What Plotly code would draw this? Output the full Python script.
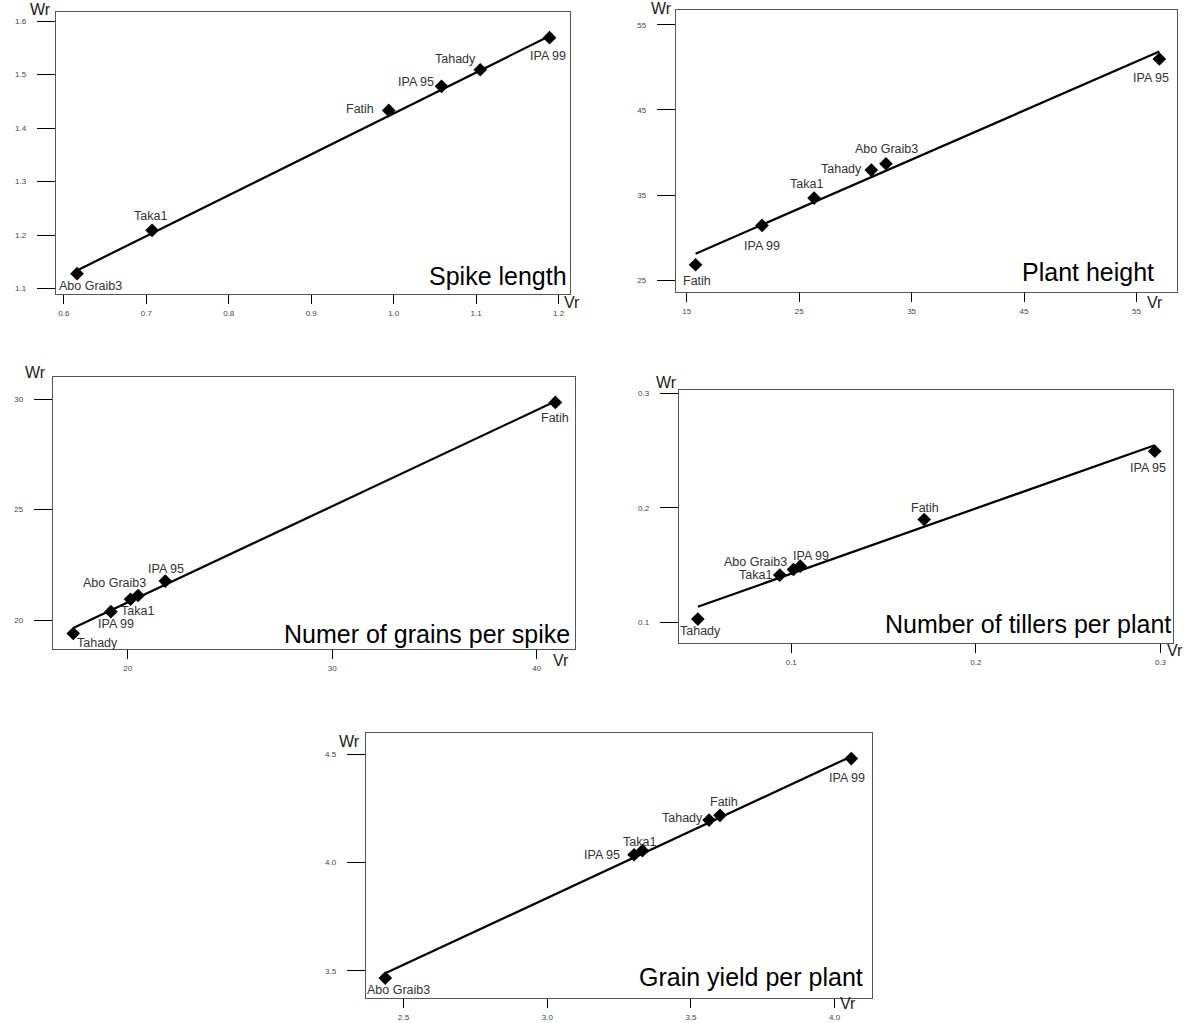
import plotly.graph_objects as go

W, H = 1189, 1023

# ---------------- data ----------------
# Panel 1: Spike length
GEN_SPIKE = ["Abo Graib3", "Taka1", "Fatih", "IPA 95", "Tahady", "IPA 99"]
VR_SPIKE = [0.616, 0.707, 0.994, 1.058, 1.105, 1.189]
WR_SPIKE = [1.128, 1.209, 1.433, 1.478, 1.509, 1.569]
FITVR_SPIKE = [0.616, 1.189]
FITWR_SPIKE = [1.134, 1.572]

# Panel 2: Plant height
GEN_HEIGHT = ["Fatih", "IPA 99", "Taka1", "Tahady", "Abo Graib3", "IPA 95"]
VR_HEIGHT = [15.79, 21.70, 26.33, 31.42, 32.72, 57.03]
WR_HEIGHT = [26.80, 31.42, 34.64, 37.93, 38.67, 51.00]
FITVR_HEIGHT = [15.79, 57.03]
FITWR_HEIGHT = [28.09, 51.87]

# Panel 3: Numer of grains per spike
GEN_GRAINS = ["Tahady", "IPA 99", "Abo Graib3", "Taka1", "IPA 95", "Fatih"]
VR_GRAINS = [17.34, 19.18, 20.14, 20.51, 21.84, 40.91]
WR_GRAINS = [19.40, 20.39, 20.95, 21.12, 21.77, 29.85]
FITVR_GRAINS = [17.34, 40.91]
FITWR_GRAINS = [19.65, 29.90]

# Panel 4: Number of tillers per plant
GEN_TILLERS = ["Tahady", "Taka1", "Abo Graib3", "IPA 99", "Fatih", "IPA 95"]
VR_TILLERS = [0.0494, 0.0938, 0.1012, 0.1049, 0.1720, 0.2969]
WR_TILLERS = [0.1029, 0.1413, 0.1462, 0.1491, 0.1898, 0.2494]
FITVR_TILLERS = [0.0494, 0.2969]
FITWR_TILLERS = [0.1137, 0.2547]

# Panel 5: Grain yield per plant
GEN_YIELD = ["Abo Graib3", "IPA 95", "Taka1", "Tahady", "Fatih", "IPA 99"]
VR_YIELD = [2.436, 3.302, 3.331, 3.563, 3.601, 4.058]
WR_YIELD = [3.466, 4.035, 4.054, 4.195, 4.217, 4.479]
FITVR_YIELD = [2.436, 4.058]
FITWR_YIELD = [3.488, 4.489]

TITLES = ["Spike length", "Plant height", "Numer of grains per spike",
          "Number of tillers per plant", "Grain yield per plant"]

X_TICKS = [[0.6, 0.7, 0.8, 0.9, 1.0, 1.1, 1.2], [15, 25, 35, 45, 55], [20, 30, 40],
           [0.1, 0.2, 0.3], [2.5, 3.0, 3.5, 4.0]]
Y_TICKS = [[1.1, 1.2, 1.3, 1.4, 1.5, 1.6], [25, 35, 45, 55], [20, 25, 30],
           [0.1, 0.2, 0.3], [3.5, 4.0, 4.5]]

# ---------------- layout / style (pixels) ----------------
FRAMES = [(56, 12, 570, 294), (676, 10, 1177, 292), (53, 377, 575, 649),
          (679, 390, 1173, 643), (366, 733, 872, 998)]
X_RANGES = [(0.5905, 1.2138), (14.05, 58.6), (16.35, 41.87), (0.0392, 0.3068), (2.369, 4.13)]
Y_RANGES = [(1.09, 1.6169), (23.59, 56.76), (18.70, 31.0), (0.082, 0.3029), (3.374, 4.597)]
TICKFMT = [(".1f", ".1f"), ("d", "d"), ("d", "d"), (".1f", ".1f"), (".1f", ".1f")]
WR_POS = [(52, 19), (673, 18), (47, 382), (678, 392), (361, 751)]      # right, bottom
VR_POS = [(563, 312), (1146, 312), (552, 670), (1166, 660), (839, 1013)]  # left, bottom
TITLE_POS = [(568, 291), (1155, 287), (571, 649), (1172, 639), (864, 992)]  # right, bottom
LABEL_OFFSETS = [
    [(13, 12), (-1.5, -14), (-28.5, -1.5), (-26, -4), (-25, -11), (-2, 18)],
    [(1, 16), (0, 21), (-7.5, -14), (-30, -1), (1, -15), (-8, 19)],
    [(24, 9), (5, 12), (-16, -16), (-1, 16), (1, -12), (0, 16)],
    [(3, 12), (-24, 0), (-38, -7), (11, -10), (1, -12), (-7, 17)],
    [(13.6, 12), (-32.5, 0), (-2.5, -9), (-27, -2), (3.5, -13), (-4.5, 19)],
]

PANELS = [
    (GEN_SPIKE, VR_SPIKE, WR_SPIKE, FITVR_SPIKE, FITWR_SPIKE),
    (GEN_HEIGHT, VR_HEIGHT, WR_HEIGHT, FITVR_HEIGHT, FITWR_HEIGHT),
    (GEN_GRAINS, VR_GRAINS, WR_GRAINS, FITVR_GRAINS, FITWR_GRAINS),
    (GEN_TILLERS, VR_TILLERS, WR_TILLERS, FITVR_TILLERS, FITWR_TILLERS),
    (GEN_YIELD, VR_YIELD, WR_YIELD, FITVR_YIELD, FITWR_YIELD),
]

FONT = "Liberation Sans, Arial, sans-serif"


def px(x):
    return x / W


def py(y):
    return 1 - y / H


fig = go.Figure()
annotations = []
layout_axes = {}

for i, (gens, vr, wr, fvr, fwr) in enumerate(PANELS):
    n = i + 1
    xa = "x" if n == 1 else f"x{n}"
    ya = "y" if n == 1 else f"y{n}"
    L, T, R, B = FRAMES[i]

    fig.add_trace(go.Scatter(x=fvr, y=fwr, mode="lines", xaxis=xa, yaxis=ya,
                             line=dict(color="black", width=2.2), showlegend=False,
                             hoverinfo="skip"))
    fig.add_trace(go.Scatter(x=vr, y=wr, mode="markers", xaxis=xa, yaxis=ya,
                             marker=dict(symbol="diamond", size=10.5, color="black"),
                             text=gens, showlegend=False))

    common = dict(showline=True, mirror=True, linecolor="#555555", linewidth=1.4,
                  showgrid=False, zeroline=False, ticks="outside", tickcolor="black",
                  tickwidth=1.3, tickfont=dict(family=FONT, size=8, color="#444444"))
    layout_axes["xaxis" if n == 1 else f"xaxis{n}"] = dict(
        common, domain=[px(L), px(R)], range=list(X_RANGES[i]), tickvals=X_TICKS[i],
        tickformat=TICKFMT[i][0], ticklen=9, ticklabelstandoff=2,
        anchor=ya)
    layout_axes["yaxis" if n == 1 else f"yaxis{n}"] = dict(
        common, domain=[py(B), py(T)], range=list(Y_RANGES[i]), tickvals=Y_TICKS[i],
        tickformat=TICKFMT[i][1], ticklen=18, ticklabelstandoff=9,
        anchor=xa)

    for g, xv, yv, (dx, dy) in zip(gens, vr, wr, LABEL_OFFSETS[i]):
        annotations.append(dict(x=xv, y=yv, xref=xa, yref=ya, text=g, showarrow=False,
                                xanchor="center", yanchor="middle", xshift=dx, yshift=-dy,
                                font=dict(family=FONT, size=12.5, color="#333333")))

    wx, wy = WR_POS[i]
    annotations.append(dict(x=px(wx), y=py(wy), xref="paper", yref="paper", text="Wr",
                            showarrow=False, xanchor="right", yanchor="bottom",
                            borderpad=0, font=dict(family=FONT, size=16, color="#222222")))
    vx, vy = VR_POS[i]
    annotations.append(dict(x=px(vx), y=py(vy), xref="paper", yref="paper", text="Vr",
                            showarrow=False, xanchor="left", yanchor="bottom",
                            borderpad=0, font=dict(family=FONT, size=16, color="#222222")))
    tx, ty = TITLE_POS[i]
    annotations.append(dict(x=px(tx), y=py(ty), xref="paper", yref="paper", text=TITLES[i],
                            showarrow=False, xanchor="right", yanchor="bottom",
                            borderpad=0, font=dict(family=FONT, size=25, color="black")))

fig.update_layout(width=W, height=H, margin=dict(l=0, r=0, t=0, b=0),
                  paper_bgcolor="white", plot_bgcolor="white",
                  annotations=annotations, **layout_axes)

fig.write_html("out.html", config={"displayModeBar": False},
               post_script="document.body.style.margin='0';")
